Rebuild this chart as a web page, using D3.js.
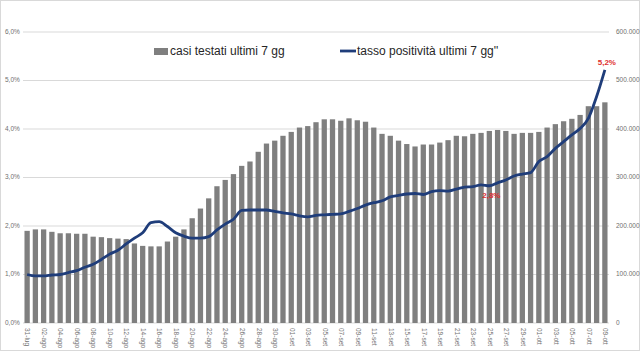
<!DOCTYPE html>
<html>
<head>
<meta charset="utf-8">
<script src="https://cdn.jsdelivr.net/npm/d3@7"></script>
<style>
  body { margin: 0; background: #fff; }
  svg { display: block; font-family: "Liberation Sans", Arial, sans-serif; }
</style>
</head>
<body>
<svg id="chart" width="640" height="351"></svg>
<script>
// one label per bar: 31-lug .. 09-ott
var days = [];
(function () {
    var months = [["lug", 31, 31], ["ago", 1, 31], ["set", 1, 30], ["ott", 1, 9]];
    months.forEach(function (m) {
        for (var d = m[1]; d <= m[2]; d++) {
            days.push((d < 10 ? "0" : "") + d + "-" + m[0]);
        }
    });
})();

// casi testati ultimi 7 gg
var tested = [
    190000, 193000, 193000, 188000, 185000, 185000, 184000, 184000, 178000, 177000,
    175000, 174000, 173000, 164000, 159000, 158000, 158000, 168000, 178000, 193000,
    216000, 236000, 257000, 282000, 295000, 307000, 324000, 333000, 353000, 370000,
    376000, 386000, 394000, 403000, 406000, 414000, 420000, 420000, 417000, 422000,
    418000, 415000, 403000, 390000, 386000, 376000, 369000, 364000, 368000, 368000,
    372000, 377000, 386000, 385000, 390000, 392000, 396000, 398000, 396000, 390000,
    392000, 392000, 394000, 403000, 410000, 416000, 421000, 429000, 447000, 447000,
    455000
];

// tasso positività ultimi 7 gg (%)
var rate = [
    1.00, 0.97, 0.97, 0.99, 1.00, 1.04, 1.08, 1.15, 1.21, 1.31,
    1.42, 1.50, 1.63, 1.75, 1.86, 2.07, 2.09, 1.99, 1.86, 1.79,
    1.75, 1.75, 1.78, 1.92, 2.04, 2.14, 2.32, 2.33, 2.33, 2.33,
    2.30, 2.27, 2.25, 2.21, 2.19, 2.22, 2.23, 2.24, 2.25, 2.30,
    2.36, 2.43, 2.48, 2.52, 2.60, 2.63, 2.66, 2.67, 2.65, 2.71,
    2.73, 2.72, 2.76, 2.80, 2.81, 2.85, 2.83, 2.89, 2.95, 3.03,
    3.07, 3.10, 3.33, 3.43, 3.60, 3.74, 3.88, 4.01, 4.22, 4.67,
    5.22
];

var leftTicks = [0, 1, 2, 3, 4, 5, 6];
var rightTicks = [0, 100000, 200000, 300000, 400000, 500000, 600000];
var callouts = [{i: 56, text: "2,8%", dy: 10}, {i: 70, text: "5,2%", dy: -7}];

var svg = d3.select("#chart");
var width = 640, height = 351;
var margin = {top: 32, right: 31, bottom: 28, left: 23};
var plotW = width - margin.left - margin.right;
var plotH = height - margin.top - margin.bottom;

// light frame
svg.append("rect")
    .attr("x", 0.5).attr("y", 0.5)
    .attr("width", width - 1).attr("height", height - 1)
    .attr("fill", "none").attr("stroke", "#d9d9d9");

var g = svg.append("g")
    .attr("transform", "translate(" + margin.left + "," + margin.top + ")");

var x = d3.scaleBand().domain(days).range([0, plotW]).paddingInner(0.36).paddingOuter(0.18);
var yL = d3.scaleLinear().domain([0, 6]).range([plotH, 0]);
var yR = d3.scaleLinear().domain([0, 600000]).range([plotH, 0]);

// gridlines
g.selectAll("line.grid")
    .data(leftTicks)
    .enter().append("line")
    .attr("class", "grid")
    .attr("x1", 0).attr("x2", plotW)
    .attr("y1", function (d) { return yL(d); })
    .attr("y2", function (d) { return yL(d); })
    .attr("stroke", "#d9d9d9").attr("stroke-width", 1);

// bars
g.selectAll("rect.bar")
    .data(tested)
    .enter().append("rect")
    .attr("class", "bar")
    .attr("x", function (d, i) { return x(days[i]); })
    .attr("width", x.bandwidth())
    .attr("y", function (d) { return yR(d); })
    .attr("height", function (d) { return plotH - yR(d); })
    .attr("fill", "#7f7f7f");

// line
var line = d3.line()
    .x(function (d, i) { return x(days[i]) + x.bandwidth() / 2; })
    .y(function (d) { return yL(d); })
    .curve(d3.curveMonotoneX);

g.append("path")
    .datum(rate)
    .attr("d", line)
    .attr("fill", "none")
    .attr("stroke", "#1f3d7a")
    .attr("stroke-width", 2.8)
    .attr("stroke-linejoin", "round");

// callouts
g.selectAll("text.callout")
    .data(callouts)
    .enter().append("text")
    .attr("class", "callout")
    .attr("x", function (d) { return x(days[d.i]) + x.bandwidth() / 2 + 2; })
    .attr("y", function (d) { return yL(rate[d.i]) + d.dy; })
    .attr("text-anchor", "middle")
    .attr("dominant-baseline", "middle")
    .attr("font-size", 8)
    .attr("font-weight", "bold")
    .attr("fill", "#e0302e")
    .text(function (d) { return d.text; });

// left axis labels
g.selectAll("text.yl")
    .data(leftTicks)
    .enter().append("text")
    .attr("class", "yl")
    .attr("x", -18)
    .attr("y", function (d) { return yL(d); })
    .attr("dominant-baseline", "middle")
    .attr("font-size", 6.5)
    .attr("fill", "#6f6f6f")
    .text(function (d) { return d.toFixed(1).replace(".", ",") + "%"; });

// right axis labels
var fmtIt = d3.formatLocale({decimal: ",", thousands: ".", grouping: [3], currency: ["", ""]}).format(",");
g.selectAll("text.yr")
    .data(rightTicks)
    .enter().append("text")
    .attr("class", "yr")
    .attr("x", plotW + 7)
    .attr("y", function (d) { return yR(d); })
    .attr("dominant-baseline", "middle")
    .attr("font-size", 6.5)
    .attr("fill", "#6f6f6f")
    .text(function (d) { return fmtIt(d); });

// x labels, every second day, rotated
g.selectAll("text.xl")
    .data(days.filter(function (d, i) { return i % 2 === 0; }))
    .enter().append("text")
    .attr("class", "xl")
    .attr("transform", function (d) {
        return "translate(" + (x(d) + x.bandwidth() / 2) + "," + (plotH + 5) + ") rotate(90)";
    })
    .attr("dominant-baseline", "middle")
    .attr("font-size", 6.5)
    .attr("fill", "#6f6f6f")
    .text(function (d) { return d; });

// legend
var legend = svg.append("g");
legend.append("rect")
    .attr("x", 154).attr("y", 48).attr("width", 14).attr("height", 7)
    .attr("fill", "#7f7f7f");
legend.append("text")
    .attr("x", 170).attr("y", 52)
    .attr("dominant-baseline", "middle")
    .attr("font-size", 12)
    .attr("fill", "#262626")
    .text("casi testati ultimi 7 gg");
legend.append("line")
    .attr("x1", 340).attr("x2", 356).attr("y1", 51).attr("y2", 51)
    .attr("stroke", "#1f3d7a").attr("stroke-width", 2.8);
legend.append("text")
    .attr("x", 357).attr("y", 52)
    .attr("dominant-baseline", "middle")
    .attr("font-size", 12)
    .attr("fill", "#262626")
    .text("tasso positività ultimi 7 gg''");
</script>
</body>
</html>
